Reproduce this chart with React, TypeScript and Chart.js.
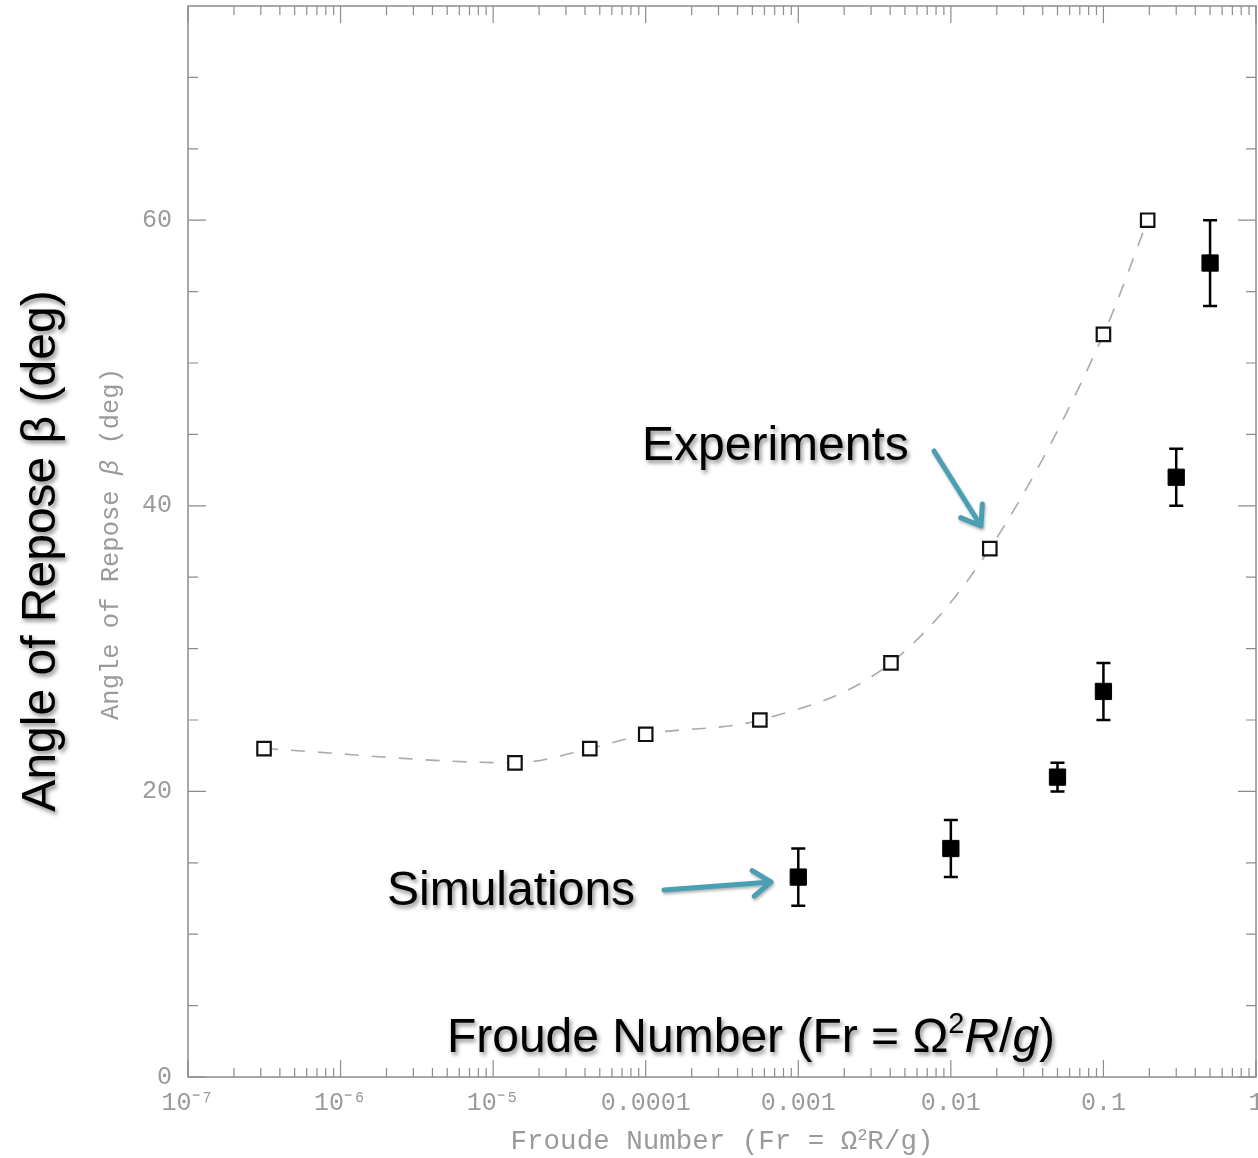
import React, { useEffect, useRef } from "react";
import { Chart, registerables } from "chart.js";

Chart.register(...registerables);

// ---- data ----
const expFroude = [3.15e-7, 1.39e-5, 4.3e-5, 1e-4, 5.6e-4, 4.05e-3, 0.018, 0.1, 0.195];
const expAngle = [23, 22, 23, 24, 25, 29, 37, 52, 60];

const simFroude = [0.001, 0.01, 0.05, 0.1, 0.3, 0.5];
const simAngle = [14, 16, 21, 27, 42, 57];
const simLow = [12, 14, 20, 25, 40, 54];
const simHigh = [16, 18, 22, 29, 44, 60];

const xTickValues = [1e-7, 1e-6, 1e-5, 1e-4, 1e-3, 1e-2, 1e-1, 1];
const xTickLabels = ["10⁻⁷", "10⁻⁶", "10⁻⁵", "0.0001", "0.001", "0.01", "0.1", "1"];
const yTickValues = [0, 20, 40, 60];
const yMinorValues = [5, 10, 15, 25, 30, 35, 45, 50, 55, 65, 70];

const GRAY = "#9a9a9a";
const TEAL = "#4aa0b2";

type Run = { text: string; font: string; dy?: number };

function drawRuns(ctx: CanvasRenderingContext2D, runs: Run[], cx: number, y: number) {
  let total = 0;
  const widths = runs.map((r) => {
    ctx.font = r.font;
    const w = ctx.measureText(r.text).width;
    total += w;
    return w;
  });
  let x = cx - total / 2;
  runs.forEach((r, i) => {
    ctx.font = r.font;
    ctx.fillText(r.text, x, y + (r.dy || 0));
    x += widths[i];
  });
}

function drawArrow(ctx: CanvasRenderingContext2D, x1: number, y1: number, x2: number, y2: number) {
  const a = Math.atan2(y2 - y1, x2 - x1);
  const L = 22;
  const s = 0.62;
  ctx.beginPath();
  ctx.moveTo(x1, y1);
  ctx.lineTo(x2, y2);
  ctx.moveTo(x2 - L * Math.cos(a - s), y2 - L * Math.sin(a - s));
  ctx.lineTo(x2, y2);
  ctx.lineTo(x2 - L * Math.cos(a + s), y2 - L * Math.sin(a + s));
  ctx.stroke();
}

const framePlugin = {
  id: "frameTicks",
  beforeDatasetsDraw(chart: any) {
    const { ctx, chartArea: a, scales } = chart;
    const xs = scales.x;
    const ys = scales.y;
    ctx.save();
    // frame
    ctx.strokeStyle = "#8c8c8c";
    ctx.lineWidth = 1.5;
    ctx.strokeRect(a.left, a.top, a.right - a.left, a.bottom - a.top);
    // x ticks
    ctx.lineWidth = 1.2;
    for (let d = -7; d <= 0; d++) {
      for (let m = 1; m <= 9; m++) {
        const v = m * Math.pow(10, d);
        if (v > 1.0001) break;
        const px = xs.getPixelForValue(v);
        const len = m === 1 ? 17 : 9;
        ctx.beginPath();
        ctx.moveTo(px, a.bottom);
        ctx.lineTo(px, a.bottom - len);
        ctx.moveTo(px, a.top);
        ctx.lineTo(px, a.top + len);
        ctx.stroke();
      }
    }
    // y ticks
    const drawY = (v: number, len: number) => {
      const py = ys.getPixelForValue(v);
      ctx.beginPath();
      ctx.moveTo(a.left, py);
      ctx.lineTo(a.left + len, py);
      ctx.moveTo(a.right, py);
      ctx.lineTo(a.right - len, py);
      ctx.stroke();
    };
    yTickValues.forEach((v) => drawY(v, 18));
    yMinorValues.forEach((v) => drawY(v, 10));

    // error bars
    ctx.strokeStyle = "#000";
    ctx.lineWidth = 2.5;
    simFroude.forEach((f, i) => {
      const px = xs.getPixelForValue(f);
      const lo = ys.getPixelForValue(simLow[i]);
      const hi = ys.getPixelForValue(simHigh[i]);
      ctx.beginPath();
      ctx.moveTo(px, lo);
      ctx.lineTo(px, hi);
      ctx.moveTo(px - 7, lo);
      ctx.lineTo(px + 7, lo);
      ctx.moveTo(px - 7, hi);
      ctx.lineTo(px + 7, hi);
      ctx.stroke();
    });
    ctx.restore();
  },
  afterDraw(chart: any) {
    const { ctx } = chart;
    ctx.save();
    // gray axis titles (original plot)
    ctx.fillStyle = GRAY;
    ctx.textBaseline = "alphabetic";
    drawRuns(
      ctx,
      [
        { text: "Froude Number (Fr = Ω", font: "27.5px 'Liberation Mono'" },
        { text: "2", font: "17px 'Liberation Mono'", dy: -9 },
        { text: "R/g)", font: "27.5px 'Liberation Mono'" },
      ],
      722,
      1149
    );
    ctx.save();
    ctx.translate(118, 544);
    ctx.rotate(-Math.PI / 2);
    drawRuns(
      ctx,
      [
        { text: "Angle of Repose ", font: "25.5px 'Liberation Mono'" },
        { text: "β", font: "italic 25.5px 'Liberation Mono'" },
        { text: " (deg)", font: "25.5px 'Liberation Mono'" },
      ],
      0,
      0
    );
    ctx.restore();

    // big annotation labels with shadow
    ctx.shadowColor = "rgba(0,0,0,0.45)";
    ctx.shadowBlur = 4;
    ctx.shadowOffsetX = 2;
    ctx.shadowOffsetY = 3;
    ctx.fillStyle = "#000";
    const big = "48px 'Liberation Sans'";
    ctx.font = big;
    ctx.textAlign = "left";
    ctx.fillText("Experiments", 642, 460);
    ctx.fillText("Simulations", 387, 905);

    drawRuns(
      ctx,
      [
        { text: "Froude Number (Fr = Ω", font: big },
        { text: "2", font: "29px 'Liberation Sans'", dy: -19 },
        { text: "R", font: "italic " + big },
        { text: "/", font: big },
        { text: "g", font: "italic " + big },
        { text: ")", font: big },
      ],
      751,
      1052
    );

    ctx.save();
    ctx.translate(55, 551);
    ctx.rotate(-Math.PI / 2);
    drawRuns(ctx, [{ text: "Angle of Repose β (deg)", font: big }], 0, 0);
    ctx.restore();

    // arrows
    ctx.strokeStyle = TEAL;
    ctx.lineWidth = 5;
    ctx.lineCap = "round";
    ctx.lineJoin = "round";
    ctx.shadowBlur = 3;
    ctx.shadowOffsetX = 1;
    ctx.shadowOffsetY = 2;
    ctx.shadowColor = "rgba(0,0,0,0.3)";
    drawArrow(ctx, 934, 451, 981, 526);
    drawArrow(ctx, 664, 890, 771, 882);
    ctx.restore();
  },
};

export default function App() {
  const ref = useRef<HTMLCanvasElement | null>(null);

  useEffect(() => {
    if (!ref.current) return;
    const chart = new Chart(ref.current, {
      type: "scatter",
      data: {
        datasets: [
          {
            label: "Experiments",
            data: expFroude.map((x, i) => ({ x, y: expAngle[i] })),
            showLine: true,
            borderColor: "#aaaaaa",
            borderWidth: 1.6,
            borderDash: [14, 13],
            cubicInterpolationMode: "monotone",
            pointStyle: "rect",
            pointRadius: 9.5,
            pointBorderWidth: 2.2,
            pointBorderColor: "#111",
            pointBackgroundColor: "#fff",
            backgroundColor: "#fff",
          } as any,
          {
            label: "Simulations",
            data: simFroude.map((x, i) => ({ x, y: simAngle[i] })),
            showLine: false,
            pointStyle: "rect",
            pointRadius: 11.5,
            pointBorderWidth: 1,
            pointBorderColor: "#000",
            pointBackgroundColor: "#000",
            backgroundColor: "#000",
          } as any,
        ],
      },
      options: {
        animation: false,
        responsive: true,
        maintainAspectRatio: false,
        layout: { autoPadding: false, padding: { left: 0, top: 6, right: 2, bottom: 0 } },
        plugins: {
          legend: { display: false },
          tooltip: { enabled: false },
        },
        scales: {
          x: {
            type: "logarithmic",
            min: 1e-7,
            max: 1,
            grid: { display: false },
            border: { display: false },
            afterBuildTicks: (s: any) => {
              s.ticks = xTickValues.map((v) => ({ value: v }));
            },
            afterFit: (s: any) => {
              s.height = 81;
              s.paddingLeft = 0;
              s.paddingRight = 0;
            },
            ticks: {
              autoSkip: false,
              maxRotation: 0,
              padding: 3,
              color: GRAY,
              font: { family: "'Liberation Mono'", size: 25 },
              callback: (v: any) => {
                const i = xTickValues.findIndex((t) => Math.abs(Math.log10(t) - Math.log10(v)) < 1e-6);
                return i >= 0 ? xTickLabels[i] : "";
              },
            },
          },
          y: {
            type: "linear",
            min: 0,
            max: 75,
            grid: { display: false },
            border: { display: false },
            afterBuildTicks: (s: any) => {
              s.ticks = yTickValues.map((v) => ({ value: v }));
            },
            afterFit: (s: any) => {
              s.width = 188;
              s.paddingTop = 0;
              s.paddingBottom = 0;
            },
            ticks: {
              padding: 8,
              color: GRAY,
              font: { family: "'Liberation Mono'", size: 25 },
            },
          },
        },
      } as any,
      plugins: [framePlugin],
    });
    return () => chart.destroy();
  }, []);

  return (
    <div style={{ position: "absolute", left: 0, top: 0, width: 1258, height: 1158, background: "#fff" }}>
      <canvas ref={ref} />
    </div>
  );
}
